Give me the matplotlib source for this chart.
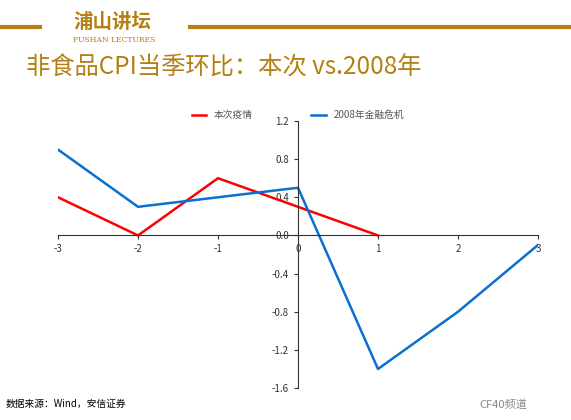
import matplotlib
matplotlib.use('Agg')
import matplotlib.pyplot as plt

plt.rcParams['font.family'] = ['Noto Sans CJK SC', 'DejaVu Sans']
plt.rcParams['axes.unicode_minus'] = False

x_red = [-3, -2, -1, 0, 1]
y_red = [0.4, 0.0, 0.6, 0.3, 0.0]
x_blue = [-3, -2, -1, 0, 1, 2, 3]
y_blue = [0.9, 0.3, 0.4, 0.5, -1.4, -0.8, -0.1]
yticks = [-1.6, -1.2, -0.8, -0.4, 0.0, 0.4, 0.8, 1.2]
gold = '#B57F14'

fig = plt.figure(figsize=(5.71, 4.2), dpi=100)
# header
fig.add_artist(plt.Line2D([0, 0.07], [0.936, 0.936], color=gold, lw=3))
fig.add_artist(plt.Line2D([0.333, 1], [0.936, 0.936], color=gold, lw=3))
fig.text(0.128, 0.947, '浦山讲坛', color=gold, fontsize=14, va='center', fontweight='bold')
fig.text(0.128, 0.905, 'PUSHAN LECTURES', color=gold, fontsize=5.5, va='center', family='DejaVu Serif')
fig.text(0.045, 0.84, '非食品CPI当季环比：本次 vs.2008年', color=gold, fontsize=17.5, va='center')
fig.text(0.01, 0.038, '数据来源：Wind，安信证券', fontsize=7, va='center')
fig.text(0.84, 0.038, 'CF40频道', fontsize=8, color='#888888', va='center')

ax = fig.add_axes([0.1016, 0.076, 0.8406, 0.636])
ax.plot(x_red, y_red, color='#FF0000', lw=1.8, label='本次疫情')
ax.plot(x_blue, y_blue, color='#0A6FD0', lw=1.8, label='2008年金融危机')
ax.set_xlim(-3, 3)
ax.set_ylim(-1.6, 1.2)
ax.set_yticks(yticks)
ax.set_yticklabels([f'{v:.1f}' for v in yticks])
ax.set_xticks(range(-3, 4))
ax.spines['left'].set_position(('data', 0))
ax.spines['bottom'].set_position(('data', 0))
ax.spines['top'].set_visible(False)
ax.spines['right'].set_visible(False)
for s in ['left', 'bottom']:
    ax.spines[s].set_color('#333333')
    ax.spines[s].set_linewidth(0.8)
ax.tick_params(labelsize=7, colors='#333333', length=3)
ax.legend(loc='lower center', bbox_to_anchor=(0.5, 0.97), ncol=2, frameon=False,
          fontsize=7, columnspacing=6, handlelength=1.5, labelcolor='#555555')
fig.savefig('out.png', dpi=100)
